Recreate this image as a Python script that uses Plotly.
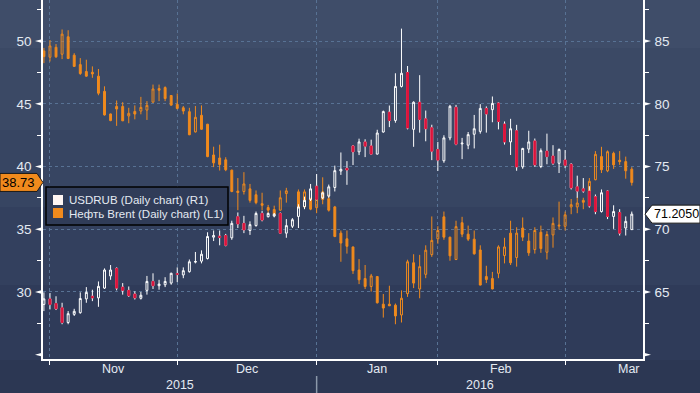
import plotly.graph_objects as go
import pandas as pd

# ---------------- data ----------------
dates = [d.strftime("%Y-%m-%d") for d in pd.bdate_range("2015-10-29", "2016-03-15")
         if d.strftime("%Y-%m-%d") != "2016-01-01"]

usd_open = [64.01, 64.45, 64.08, 63.74, 62.57, 63.22, 63.35, 64.45, 64.66, 64.53,
            65.31, 66.28, 66.88, 65.39, 65.13, 64.84, 64.50, 65.13, 65.84, 65.50,
            65.58, 65.71, 66.46, 66.36, 66.62, 67.38, 67.46, 67.67, 69.37, 69.45,
            69.50, 69.32, 71.00, 70.47, 69.90, 70.29, 71.26, 71.00, 71.05, 71.26,
            69.69, 70.24, 71.02, 71.80, 72.38, 73.43, 72.50, 72.64, 73.33, 74.64,
            74.86, 76.64, 76.17, 76.96, 76.64, 75.99, 77.75, 79.33, 78.67, 81.38,
            82.49, 77.96, 80.12, 78.80, 78.09, 76.36, 75.46, 77.28, 79.72, 76.80,
            76.70, 77.57, 77.80, 79.63, 79.53, 80.05, 78.38, 76.96, 77.85, 74.97,
            76.39, 77.04, 75.00, 76.23, 75.84, 75.26, 75.52, 75.18, 73.38, 73.22,
            73.04, 72.59, 71.41, 73.04, 71.02, 71.33, 70.10, 69.97]
usd_high = [64.97, 64.92, 64.66, 64.14, 63.48, 63.66, 64.97, 65.39, 65.18, 65.84,
            66.88, 67.15, 66.96, 65.71, 65.44, 65.05, 65.00, 66.28, 66.49, 65.97,
            66.18, 66.54, 66.96, 66.96, 67.59, 68.19, 68.32, 69.76, 69.90, 69.90,
            69.63, 70.68, 71.34, 71.07, 70.63, 71.41, 71.47, 71.34, 71.30, 71.34,
            70.81, 70.89, 71.99, 72.60, 73.61, 74.40, 73.00, 73.56, 75.07, 76.12,
            75.43, 76.70, 77.22, 77.17, 77.14, 77.93, 79.46, 79.86, 82.43, 85.99,
            83.01, 80.20, 82.28, 79.46, 78.33, 76.96, 77.49, 79.91, 79.91, 77.28,
            77.75, 79.11, 79.97, 79.79, 80.58, 80.10, 78.59, 78.80, 78.32, 76.49,
            77.85, 77.23, 76.44, 77.62, 76.70, 76.44, 76.31, 75.26, 74.27, 74.08,
            73.43, 72.77, 73.17, 73.09, 71.91, 71.60, 71.02, 71.41]
usd_low = [63.48, 63.61, 63.56, 62.43, 62.43, 63.09, 63.27, 64.14, 64.27, 63.82,
           65.24, 65.97, 65.13, 64.79, 64.61, 64.40, 64.40, 64.79, 65.24, 65.18,
           65.39, 65.58, 65.79, 66.10, 66.54, 67.28, 67.28, 67.59, 69.06, 68.72,
           68.64, 69.16, 70.10, 69.69, 69.55, 70.21, 70.63, 70.94, 70.95, 69.63,
           69.32, 70.10, 70.10, 71.60, 72.25, 72.30, 72.40, 72.51, 73.01, 74.33,
           73.54, 75.12, 75.91, 75.75, 75.96, 75.96, 77.70, 78.14, 78.49, 81.30,
           77.96, 76.57, 77.70, 77.01, 75.51, 74.64, 75.30, 77.09, 76.70, 75.59,
           76.38, 76.44, 77.62, 77.70, 78.53, 77.96, 76.75, 75.92, 74.66, 74.82,
           76.07, 74.97, 74.87, 75.18, 75.13, 74.48, 74.87, 73.17, 72.51, 72.91,
           71.73, 71.20, 71.33, 70.81, 70.03, 69.50, 69.50, 69.95]
usd_close = [64.45, 64.01, 63.66, 62.57, 63.27, 63.46, 64.48, 64.97, 64.53, 65.45,
             66.75, 66.75, 65.31, 65.13, 64.71, 64.53, 64.74, 65.84, 65.50, 65.63,
             65.84, 66.49, 66.41, 66.70, 67.41, 67.43, 68.01, 69.42, 69.50, 69.34,
             68.72, 70.47, 70.42, 69.95, 70.37, 71.26, 70.73, 71.26, 71.20, 69.69,
             70.29, 70.76, 71.78, 72.30, 73.22, 72.38, 72.90, 73.38, 74.67, 74.78,
             74.72, 76.17, 76.96, 76.62, 75.99, 77.67, 79.38, 78.67, 81.38, 82.43,
             78.07, 80.12, 78.75, 78.01, 76.22, 75.51, 77.28, 79.80, 76.78, 76.86,
             77.54, 78.01, 79.63, 79.19, 80.03, 78.59, 76.96, 78.01, 74.97, 76.44,
             76.96, 75.13, 76.26, 75.79, 75.26, 76.36, 75.10, 73.30, 73.04, 73.04,
             71.86, 71.41, 72.91, 71.02, 71.41, 69.69, 70.63, 71.205]

brent_open = [49.21, 48.71, 49.50, 48.95, 50.34, 48.87, 48.12, 47.57, 47.51, 47.20,
              45.99, 44.19, 44.79, 44.79, 44.03, 44.39, 44.42, 44.50, 45.13, 46.21,
              46.29, 45.66, 44.95, 44.68, 44.37, 42.76, 44.08, 43.37, 40.92, 40.68,
              40.53, 39.71, 38.04, 38.01, 38.22, 37.75, 37.04, 36.73, 36.57, 36.52,
              37.85, None, 37.98, 36.78, 37.43, 36.72, 37.98, 37.43, 36.78, 34.69,
              34.24, 33.59, 31.75, 31.07, 30.44, 31.23, 29.03, 29.03, 28.95, 28.17,
              29.87, 32.33, 30.24, 31.41, 32.98, 34.24, 35.99, 34.37, 32.59, 35.52,
              34.61, 34.21, 33.35, 31.23, 31.07, 31.49, 32.91, 34.69, 32.75, 35.10,
              34.06, 33.38, 34.76, 33.17, 34.55, 35.25, 35.24, 36.78, 36.78, 37.30,
              37.17, 38.95, 40.79, 39.66, 41.05, 40.50, 40.39, 39.79]
brent_high = [49.45, 50.08, 49.76, 50.92, 50.86, 49.03, 48.64, 48.51, 47.98, 47.77,
              46.39, 44.22, 45.26, 45.13, 44.68, 44.87, 45.55, 45.21, 46.53, 46.53,
              46.39, 45.68, 45.82, 44.82, 44.68, 44.82, 44.87, 43.40, 41.58, 41.74,
              40.74, 39.75, 39.08, 39.55, 38.61, 38.09, 37.91, 36.94, 36.88, 38.09,
              38.30, None, 38.17, 38.17, 37.51, 38.25, 39.14, 37.77, 36.86, 34.90,
              34.90, 33.62, 32.62, 32.15, 31.44, 31.25, 29.84, 30.50, 29.08, 30.13,
              32.57, 33.01, 32.96, 33.72, 36.02, 35.24, 36.41, 34.40, 35.68, 35.99,
              35.29, 34.90, 33.72, 32.09, 31.60, 33.72, 34.32, 35.68, 35.16, 35.94,
              34.69, 35.16, 35.29, 34.84, 35.94, 37.20, 36.41, 37.41, 37.59, 37.51,
              39.08, 41.23, 41.57, 41.28, 41.18, 41.23, 40.79, 39.95]
brent_low = [48.24, 48.37, 48.66, 48.56, 48.56, 47.93, 47.30, 47.15, 47.07, 45.68,
             44.06, 43.61, 43.24, 43.62, 43.45, 43.76, 44.16, 43.71, 45.08, 45.21,
             45.21, 44.87, 44.55, 44.16, 42.50, 42.71, 42.92, 40.74, 39.95, 39.68,
             39.63, 37.95, 36.52, 37.77, 37.12, 36.99, 36.52, 36.20, 36.02, 36.47,
             37.12, None, 36.68, 36.73, 36.52, 36.28, 36.99, 36.41, 34.37, 32.41,
             33.06, 31.44, 30.63, 30.24, 30.03, 29.08, 27.96, 28.88, 27.43, 27.57,
             29.61, 30.31, 29.50, 31.10, 32.80, 33.85, 34.16, 32.49, 32.54, 34.37,
             34.06, 32.98, 30.53, 30.71, 30.22, 31.10, 32.28, 32.15, 32.02, 34.06,
             32.88, 33.06, 33.12, 32.59, 33.53, 34.97, 34.90, 36.20, 36.28, 36.60,
             36.99, 38.90, 39.48, 39.55, 39.81, 40.13, 39.03, 38.48]
brent_close = [48.76, 49.61, 48.74, 50.55, 48.61, 47.98, 47.41, 47.20, 47.38, 45.84,
               44.11, 43.66, 44.58, 43.64, 44.24, 44.18, 44.71, 44.87, 46.18, 46.08,
               45.42, 44.89, 44.63, 44.42, 42.53, 43.92, 42.97, 40.79, 40.29, 40.16,
               39.74, 38.01, 37.93, 38.61, 37.30, 37.12, 36.91, 36.52, 36.20, 37.51,
               38.06, None, 36.73, 37.98, 36.60, 38.10, 37.38, 36.52, 34.42, 33.90,
               33.64, 31.70, 30.97, 30.44, 31.28, 29.14, 28.72, 28.90, 28.09, 29.50,
               32.41, 30.71, 32.02, 33.33, 34.11, 34.90, 34.37, 32.88, 35.21, 34.61,
               34.21, 33.04, 30.55, 30.99, 30.24, 33.59, 33.59, 32.33, 34.69, 34.37,
               33.12, 34.90, 33.46, 34.58, 35.47, 35.32, 36.15, 36.96, 37.09, 37.15,
               38.82, 40.97, 39.74, 41.18, 40.13, 40.39, 39.66, 38.73]

month_names = ["Nov", "Dec", "Jan", "Feb", "Mar"]
year_names = ["2015", "2016"]
left_ticks = [30, 35, 40, 45, 50]
right_ticks = [65, 70, 75, 80, 85]
usd_name = "USDRUB (Daily chart) (R1)"
brent_name = "Нефть Brent (Daily chart) (L1)"

# ---------------- style ----------------
WHITE = "#ffffff"
RED = "#dc143c"
ORANGE = "#f08a1d"
GRID = "#587294"
TXT = "#e4eaf2"
FONT = "Liberation Sans, Arial, sans-serif"
W, H = 700, 393
ML, MR, MT, MB = 43, 57, 0, 34
PW, PH = W - ML - MR, H - MT - MB
YL = [24.66, 53.27]
YR = [YL[0] + 35, YL[1] + 35]
XR = [-0.15, len(dates) - 1 + 1.85]


def px_x(p):
    return (p - ML) / PW


def px_y(p):
    return (MT + PH - p) / PH


# month-end boundaries
bounds = [i for i in range(len(dates) - 1) if dates[i][5:7] != dates[i + 1][5:7]]
edges = bounds + [bounds[-1] + 21]
month_pos = [(edges[i] + edges[i + 1]) / 2 for i in range(len(edges) - 1)]

# red body overlay for falling USDRUB candles
dn_open = [o if c < o else None for o, c in zip(usd_open, usd_close)]
dn_close = [c if c < o else None for o, c in zip(usd_open, usd_close)]

fig = go.Figure()
fig.add_trace(go.Candlestick(
    x=dates, open=usd_open, high=usd_high, low=usd_low, close=usd_close,
    yaxis="y2", name=usd_name, showlegend=False, hoverinfo="skip",
    increasing=dict(line=dict(color=WHITE, width=1), fillcolor="rgba(0,0,0,0)"),
    decreasing=dict(line=dict(color=WHITE, width=1), fillcolor=RED)))
fig.add_trace(go.Candlestick(
    x=dates, open=dn_open, high=dn_open, low=dn_close, close=dn_close,
    yaxis="y2", showlegend=False, hoverinfo="skip",
    increasing=dict(line=dict(color=RED, width=1), fillcolor=RED),
    decreasing=dict(line=dict(color=RED, width=1), fillcolor=RED)))
fig.add_trace(go.Candlestick(
    x=dates, open=brent_open, high=brent_high, low=brent_low, close=brent_close,
    yaxis="y", name=brent_name, showlegend=False, hoverinfo="skip",
    increasing=dict(line=dict(color=ORANGE, width=1), fillcolor="rgba(0,0,0,0)"),
    decreasing=dict(line=dict(color=ORANGE, width=1), fillcolor=ORANGE)))

shapes = []
# background stepped gradient
bands = [(0, 48, "#3f4d69"), (48, 130, "#3b4965"), (130, 207, "#374562"),
         (207, 285, "#33405e"), (285, 360, "#2f3b59"), (360, 393, "#2c3753")]
for a, b, col in bands:
    shapes.append(dict(type="rect", xref="paper", yref="paper", x0=-0.1, x1=1.2,
                       y0=px_y(b), y1=px_y(a), fillcolor=col, line=dict(width=0),
                       layer="below"))
# tick flags
d = 0.17
for v in left_ticks + [25]:
    shapes.append(dict(type="path", xref="paper", yref="y",
                       path=f"M 0 {v + d} L 0 {v - d} L {-8 / PW} {v} Z",
                       fillcolor=WHITE, line=dict(width=0), layer="above"))
for v in right_ticks + [60]:
    shapes.append(dict(type="path", xref="paper", yref="y2",
                       path=f"M 1 {v + d} L 1 {v - d} L {1 + 8 / PW} {v} Z",
                       fillcolor=WHITE, line=dict(width=0), layer="above"))
# year divider
shapes.append(dict(type="line", xref="x", yref="paper", x0=bounds[2], x1=bounds[2],
                   y0=px_y(376), y1=px_y(393), line=dict(color="#8c98aa", width=1.5)))
# legend box
shapes.append(dict(type="rect", xref="paper", yref="paper", x0=px_x(46), x1=px_x(228),
                   y0=px_y(225), y1=px_y(187), fillcolor="#303c58",
                   line=dict(color="#000000", width=1.5), layer="above"))
shapes.append(dict(type="rect", xref="paper", yref="paper", x0=px_x(53), x1=px_x(63),
                   y0=px_y(205), y1=px_y(195), fillcolor="#fff6f3",
                   line=dict(width=0), layer="above"))
shapes.append(dict(type="rect", xref="paper", yref="paper", x0=px_x(53), x1=px_x(63),
                   y0=px_y(218), y1=px_y(208), fillcolor=ORANGE,
                   line=dict(width=0), layer="above"))
# price tags
bl = brent_close[-1]
hl = 9 / (PH / (YL[1] - YL[0]))
shapes.append(dict(type="path", xref="paper", yref="y",
                   path=(f"M {px_x(0)} {bl + hl} L {px_x(37)} {bl + hl} L {px_x(43)} {bl} "
                         f"L {px_x(37)} {bl - hl} L {px_x(0)} {bl - hl} Z"),
                   fillcolor=ORANGE, line=dict(color="#1a1a1a", width=1), layer="above"))
ul = usd_close[-1]
shapes.append(dict(type="path", xref="paper", yref="y2",
                   path=(f"M {px_x(645)} {ul} L {px_x(652)} {ul + hl} L {px_x(700)} {ul + hl} "
                         f"L {px_x(700)} {ul - hl} L {px_x(652)} {ul - hl} Z"),
                   fillcolor="#ffffff", line=dict(color="#1a1a1a", width=1), layer="above"))

ann = []
for name, pos in zip(month_names, month_pos):
    ann.append(dict(x=pos, y=px_y(369), xref="x", yref="paper", text=name,
                    xanchor="center", yanchor="middle",
                    showarrow=False, font=dict(size=12.5, color=TXT, family=FONT)))
year_pos = [(XR[0] + bounds[2]) / 2, (bounds[2] + XR[1]) / 2]
for name, pos in zip(year_names, year_pos):
    ann.append(dict(x=pos, y=px_y(385), xref="x", yref="paper", text=name,
                    xanchor="center", yanchor="middle",
                    showarrow=False, font=dict(size=12.5, color=TXT, family=FONT)))
ann.append(dict(x=px_x(67), y=px_y(200), xref="paper", yref="paper", text=usd_name,
                xanchor="left", yanchor="middle",
                showarrow=False, font=dict(size=11.5, color=TXT, family=FONT)))
ann.append(dict(x=px_x(67), y=px_y(213.5), xref="paper", yref="paper", text=brent_name,
                xanchor="left", yanchor="middle",
                showarrow=False, font=dict(size=11.5, color=TXT, family=FONT)))
ann.append(dict(x=px_x(18.5), y=bl, xref="paper", yref="y", text=f"{bl:.2f}",
                xanchor="center", yanchor="middle",
                showarrow=False, font=dict(size=13, color="#000000", family=FONT)))
ann.append(dict(x=px_x(676), y=ul, xref="paper", yref="y2", text=f"{ul:.4f}",
                xanchor="center", yanchor="middle",
                showarrow=False, font=dict(size=12.5, color="#000000", family=FONT)))

fig.update_layout(
    width=W, height=H, margin=dict(l=ML, r=MR, t=MT, b=MB),
    paper_bgcolor="#2c3753", plot_bgcolor="rgba(0,0,0,0)",
    font=dict(family=FONT, color=TXT), showlegend=False, boxgap=0.55,
    xaxis=dict(type="category", range=XR, rangeslider=dict(visible=False),
               tickvals=[dates[i] for i in bounds], showticklabels=False,
               ticks="outside", ticklen=4, tickcolor=WHITE, tickwidth=1,
               showgrid=True, gridcolor=GRID, griddash="3px,3px", gridwidth=1,
               showline=True, linecolor=WHITE, linewidth=1.5, zeroline=False),
    yaxis=dict(range=YL, tickvals=left_ticks, ticks="outside", ticklen=7,
               tickcolor="rgba(0,0,0,0)", tickfont=dict(size=13.5, color=TXT),
               showgrid=True, gridcolor=GRID, griddash="3px,3px", gridwidth=1,
               showline=True, linecolor=WHITE, linewidth=1.5, zeroline=False,
               minor=dict(tickvals=[25, 27.5, 32.5, 37.5, 42.5, 47.5, 52.5], ticks="outside",
                          ticklen=4, tickcolor=WHITE, tickwidth=1, showgrid=False)),
    yaxis2=dict(range=YR, tickvals=right_ticks, overlaying="y", side="right",
                ticks="outside", ticklen=7, tickcolor="rgba(0,0,0,0)",
                tickfont=dict(size=13.5, color=TXT), showgrid=False,
                showline=True, linecolor=WHITE, linewidth=1.5, zeroline=False,
                minor=dict(tickvals=[60, 62.5, 67.5, 72.5, 77.5, 82.5, 87.5], ticks="outside",
                           ticklen=4, tickcolor=WHITE, tickwidth=1, showgrid=False)),
    shapes=shapes, annotations=ann,
)

fig.write_html("out.html", config={"displayModeBar": False},
               post_script="document.body.style.margin='0';document.body.style.overflow='hidden';")
